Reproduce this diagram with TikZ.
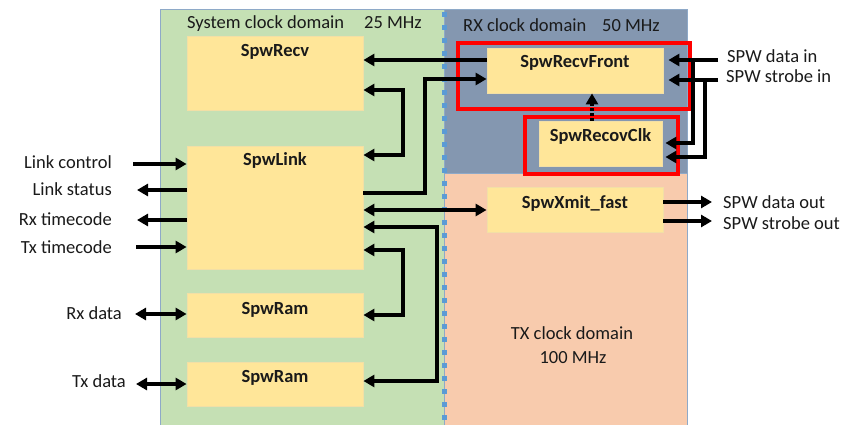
\documentclass[tikz,border=0pt]{standalone}
\usepackage{fontspec}
\setmainfont{Carlito}
\usetikzlibrary{arrows.meta}
\definecolor{sysgreen}{HTML}{C5E0B4}
\definecolor{rxblue}{HTML}{8497B0}
\definecolor{txpeach}{HTML}{F8CBAD}
\definecolor{blockyellow}{HTML}{FFE699}
\definecolor{blockedge}{HTML}{F2DFA6}
\definecolor{zoneedge}{HTML}{8EA9C8}
\definecolor{divider}{HTML}{5B9BD5}
\definecolor{txtgray}{HTML}{1A1A1A}
\begin{document}
\begin{tikzpicture}[x=1pt,y=-1pt,
  every node/.style={font=\fontsize{18.5}{22}\selectfont, text=txtgray, inner sep=0pt},
  block/.style={fill=blockyellow, draw=blockedge, line width=0.8pt},
  blocktitle/.style={anchor=base, font=\fontsize{18.5}{22}\selectfont\bfseries},
  lbl/.style={anchor=base},
  clockzone/.style={draw=zoneedge, line width=1pt},
  redframe/.style={draw=red, line width=4pt},
  wire/.style={line width=3.4pt, black},
  arr/.style={wire, -{Triangle[length=11pt,width=12pt]}},
  biarr/.style={wire, {Triangle[length=11pt,width=12pt]}-{Triangle[length=11pt,width=12pt]}}
]
\useasboundingbox (0,0) rectangle (849,425);

% clock domains
\fill[white] (0,0) rectangle (849,425);
\draw[clockzone, fill=sysgreen] (160,10) rectangle (444,430);
\draw[clockzone, fill=rxblue] (444,10) rectangle (687,174);
\draw[clockzone, fill=txpeach] (444,174) rectangle (687,430);
\draw[divider, line width=5pt, dash pattern=on 5pt off 8pt] (444,12) -- (444,425);

\node[lbl, anchor=base west] (sysname) at (187,29) {System clock domain};
\node[lbl, anchor=base west] (sysfreq) at (364,29) {25 MHz};
\node[lbl, anchor=base west] (rxname) at (463,32) {RX clock domain};
\node[lbl, anchor=base west] (rxfreq) at (602,32) {50 MHz};
\node[lbl] (txname) at (572,339) {TX clock domain};
\node[lbl] (txfreq) at (573,363) {100 MHz};

% blocks
\node[block, minimum width=176pt, minimum height=74pt] (recv) at (275,73) {};
\node[block, minimum width=176pt, minimum height=123pt] (link) at (275,207.5) {};
\node[block, minimum width=176pt, minimum height=44pt] (ram1) at (275,315) {};
\node[block, minimum width=176pt, minimum height=44pt] (ram2) at (275,384) {};
\node[block, minimum width=176pt, minimum height=45pt] (front) at (575,70.5) {};
\node[block, minimum width=123pt, minimum height=45pt] (clk) at (600.5,143.5) {};
\node[block, minimum width=176pt, minimum height=45pt] (xmit) at (575,209.5) {};

\node[blocktitle] (recvT) at (275,57) {SpwRecv};
\node[blocktitle] (linkT) at (275,166) {SpwLink};
\node[blocktitle] (ram1T) at (275,314) {SpwRam};
\node[blocktitle] (ram2T) at (275,382) {SpwRam};
\node[blocktitle] (frontT) at (575,68) {SpwRecvFront};
\node[blocktitle] (clkT) at (600.5,142) {SpwRecovClk};
\node[blocktitle] (xmitT) at (575,208) {SpwXmit\_fast};

% highlight frames
\draw[redframe] (458,43) rectangle (690,109);
\draw[redframe] (525,117) rectangle (678,174);

% external signal names
\node[lbl, anchor=base east] (lctl) at (112,168) {Link control};
\node[lbl, anchor=base east] (lstat) at (112,196) {Link status};
\node[lbl, anchor=base east] (rxtc) at (112,225) {Rx timecode};
\node[lbl, anchor=base east] (txtc) at (112,253) {Tx timecode};
\node[lbl, anchor=base east] (rxd) at (122,319) {Rx data};
\node[lbl, anchor=base east] (txd) at (126,387) {Tx data};
\node[lbl, anchor=base west] (din) at (727,63) {SPW data in};
\node[lbl, anchor=base west] (sin) at (726,83) {SPW strobe in};
\node[lbl, anchor=base west] (dout) at (723,208) {SPW data out};
\node[lbl, anchor=base west] (sout) at (723,229) {SPW strobe out};

% free ends of the external wires
\coordinate (lctlE) at (133,164);
\coordinate (lstatE) at (137,190);
\coordinate (rxtcE) at (137,220);
\coordinate (txtcE) at (136,247);
\coordinate (rxdE) at (135,314);
\coordinate (txdE) at (136,384);
\coordinate (dinE) at (718,60);
\coordinate (sinE) at (718,80);
\coordinate (doutE) at (712,202);
\coordinate (soutE) at (712,221);

% left side wires
\draw[arr] (lctlE) -- (lctlE -| link.west);
\draw[arr] (lstatE -| link.west) -- (lstatE);
\draw[arr] (rxtcE -| link.west) -- (rxtcE);
\draw[arr] (txtcE) -- (txtcE -| link.west);
\draw[biarr] (rxdE) -- (rxdE -| ram1.west);
\draw[biarr] (txdE) -- (txdE -| ram2.west);

% internal wires
\draw[arr] (front.west |- 0,60) -- (recv.east |- 0,60);
\draw[arr] (link.east |- 0,193) -| (425,79) -- (front.west |- 0,79);
\draw[biarr] (recv.east |- 0,90) -| (403,155) -- (link.east |- 0,155);
\draw[biarr] (link.east |- 0,210) -- (xmit.west |- 0,210);
\draw[biarr] (link.east |- 0,227) -| (437,381) -- (ram2.east |- 0,381);
\draw[biarr] (link.east |- 0,250) -| (403,315) -- (ram1.east |- 0,315);
\draw[arr, dash pattern=on 3pt off 2pt] (clk.north -| 592,0) -- (front.south -| 592,0);

% receiver inputs
\draw[arr, shorten >=5pt] (dinE) -- (dinE -| front.east);
\draw[arr, shorten >=5pt] (sinE) -- (sinE -| front.east);
\draw[arr, shorten >=3pt] (693,60) |- (clk.east |- 0,143);
\draw[arr, shorten >=3pt] (705,80) |- (clk.east |- 0,157);

% transmitter outputs
\draw[arr] (xmit.east |- doutE) -- (doutE);
\draw[arr] (xmit.east |- soutE) -- (soutE);
\end{tikzpicture}
\end{document}
